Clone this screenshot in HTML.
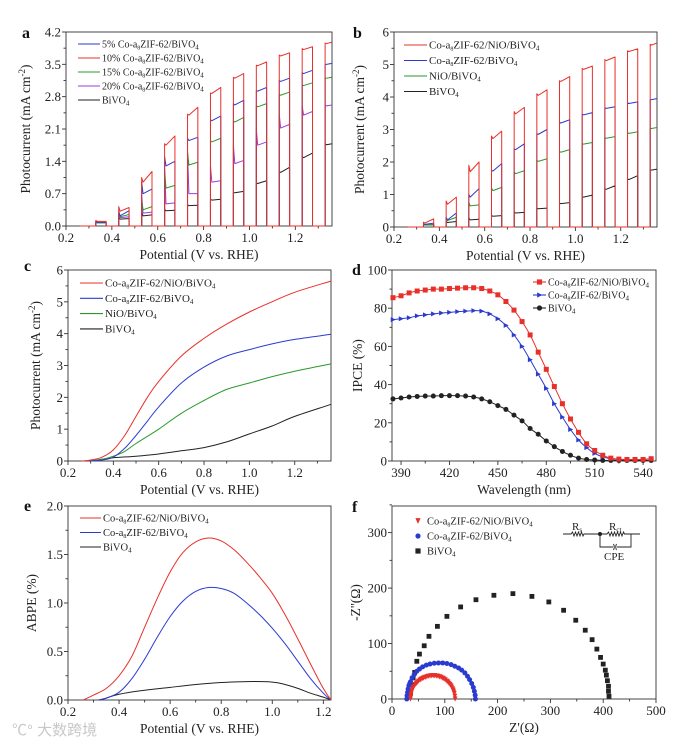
<!DOCTYPE html>
<html><head><meta charset="utf-8"><style>
html,body{margin:0;padding:0;background:#fff;}
svg{display:block;}
svg text{font-family:"Liberation Serif","DejaVu Serif",serif;}
</style></head><body>
<svg id="fig" width="693" height="745" viewBox="0 0 693 745" xmlns="http://www.w3.org/2000/svg" font-family="Liberation Serif, DejaVu Serif, serif">
<rect width="693" height="745" fill="#fff"/>
<text x="12" y="735" font-size="15" fill="#c8c8c8" style="font-family:'Liberation Sans','Noto Sans CJK SC',sans-serif">℃° 大数跨境</text>
<g id="circuit" stroke="#222" fill="none" stroke-width="0.9">
<path d="M563 534 H571 l1.5 -2 l1.5 4 l1.5 -4 l1.5 4 l1.5 -4 l1.5 4 l1.5 -4 l1.5 4 l1 -2 H600 H607 l1.5 -2 l1.5 4 l1.5 -4 l1.5 4 l1.5 -4 l1.5 4 l1.5 -4 l1.5 4 l1.5 -4 l1.5 4 l1.5 -4 l1 2 H640"/>
<path d="M600 534 V547 H613 M617 547 H631 V534"/>
<path d="M613.5 544 q1.5 3 0 6 M616.5 544 q-1.5 3 0 6"/>
<circle cx="600" cy="534" r="1.6" fill="#222"/>
<text x="572" y="530" font-size="11" fill="#222" stroke="none">R<tspan font-size="7" dy="2">s</tspan></text>
<text x="609" y="530" font-size="11" fill="#222" stroke="none">R<tspan font-size="7" dy="2">ct</tspan></text>
<text x="604" y="560" font-size="11" fill="#222" stroke="none">CPE</text>
</g>
</svg>
<script>
// ---------- data ----------
const pulseV = [0.33,0.43,0.53,0.63,0.73,0.83,0.93,1.03,1.13,1.23,1.33];
// panel a
const aRedSpike=[0.12,0.42,1.05,1.78,2.42,2.88,3.22,3.48,3.7,3.84,3.96];
const aRedDip=[0.1,0.32,0.95,1.75,2.4,2.87,3.2,3.47,3.68,3.82,3.95];
const aRedEnd=[0.1,0.4,1.18,1.95,2.57,3.0,3.3,3.55,3.75,3.88,3.98];
const aBlueSpike=[0.1,0.32,0.95,1.5,1.9,2.3,2.65,2.93,3.15,3.32,3.5];
const aBlueDip=[0.08,0.22,0.7,1.3,1.85,2.28,2.62,2.92,3.13,3.3,3.5];
const aBlueEnd=[0.08,0.33,0.8,1.4,1.92,2.38,2.72,3.0,3.2,3.37,3.52];
const aGreenSpike=[0.08,0.25,0.55,1.2,1.6,1.85,2.28,2.6,2.85,3.05,3.2];
const aGreenDip=[0.07,0.2,0.35,0.82,1.32,1.82,2.25,2.58,2.83,3.04,3.2];
const aGreenEnd=[0.07,0.25,0.42,0.88,1.38,1.9,2.35,2.65,2.9,3.1,3.22];
const aPurpleSpike=[0.1,0.28,0.65,1.25,1.6,1.3,1.75,2.1,2.42,2.6,2.62];
const aPurpleDip=[0.07,0.18,0.28,0.48,0.7,0.95,1.35,1.75,2.12,2.4,2.6];
const aPurpleEnd=[0.07,0.2,0.3,0.5,0.7,0.98,1.42,1.82,2.2,2.48,2.62];
const aBlackSpike=[0.08,0.18,0.3,0.36,0.46,0.58,0.72,0.93,1.18,1.5,1.78];
const aBlackDip=[0.07,0.15,0.22,0.33,0.44,0.56,0.72,0.92,1.16,1.48,1.76];
const aBlackEnd=[0.07,0.16,0.24,0.34,0.45,0.58,0.75,0.98,1.27,1.58,1.78];
// panel b
const bRedSpike=[0.15,0.8,1.9,2.8,3.55,4.1,4.5,4.88,5.15,5.42,5.62];
const bRedDip=[0.12,0.7,1.7,2.72,3.48,4.05,4.48,4.85,5.12,5.4,5.6];
const bRedEnd=[0.25,0.92,2.0,2.95,3.68,4.22,4.63,4.95,5.23,5.48,5.66];
const bBlueSpike=[0.1,0.3,1.0,1.75,2.4,2.87,3.22,3.47,3.67,3.82,3.92];
const bBlueDip=[0.08,0.22,0.92,1.72,2.38,2.85,3.2,3.45,3.65,3.8,3.92];
const bBlueEnd=[0.12,0.43,1.18,1.95,2.56,3.0,3.3,3.52,3.7,3.85,3.95];
const bGreenSpike=[0.08,0.28,0.75,1.2,1.7,2.05,2.33,2.56,2.75,2.9,3.04];
const bGreenDip=[0.06,0.2,0.65,1.12,1.64,2.02,2.3,2.55,2.73,2.88,3.03];
const bGreenEnd=[0.08,0.3,0.68,1.22,1.73,2.1,2.38,2.6,2.78,2.93,3.06];
const bBlackSpike=[0.07,0.17,0.28,0.36,0.46,0.58,0.73,0.93,1.18,1.48,1.76];
const bBlackDip=[0.06,0.14,0.22,0.33,0.43,0.56,0.72,0.92,1.16,1.46,1.75];
const bBlackEnd=[0.07,0.17,0.24,0.35,0.45,0.58,0.75,0.98,1.27,1.58,1.78];
// panel c
const cRedV=[0.26,0.3,0.35,0.4,0.45,0.5,0.55,0.6,0.7,0.8,0.9,1.0,1.1,1.2,1.36];
const cRedJ=[0,0.03,0.12,0.35,0.8,1.4,2.0,2.5,3.3,3.85,4.3,4.68,5.0,5.3,5.65];
const cBlueV=[0.3,0.35,0.4,0.45,0.5,0.55,0.6,0.7,0.8,0.9,1.0,1.1,1.2,1.36];
const cBlueJ=[0,0.03,0.12,0.4,0.8,1.25,1.7,2.45,2.95,3.3,3.5,3.68,3.82,3.98];
const cGreenV=[0.3,0.35,0.4,0.45,0.5,0.6,0.7,0.8,0.9,1.0,1.1,1.2,1.36];
const cGreenJ=[0,0.05,0.15,0.3,0.55,1.0,1.5,1.9,2.25,2.45,2.65,2.82,3.05];
const cBlackV=[0.3,0.4,0.5,0.6,0.7,0.8,0.9,1.0,1.1,1.2,1.36];
const cBlackJ=[0,0.1,0.15,0.22,0.32,0.42,0.6,0.85,1.1,1.4,1.78];
// panel d
const dWave=[385,390,395,400,405,410,415,420,425,430,435,440,445,450,455,460,465,470,475,480,485,490,495,500,505,510,515,520,525,530,535,540,545,550];
const dRed=[85.5,86.5,88,89,89.5,90,90,90.3,90.5,90.7,90.7,90.3,89,87,83.5,79,73,66,57,48,39,30,22,15,9,5.5,3,1.5,1,0.8,0.8,0.8,1.2,1.5];
const dBlue=[74,74.5,75,76,76.5,77,77.5,77.8,78.2,78.5,78.7,78.5,77,74.5,71,66,60,53,45.5,38,30,23,16.5,11,7,4,2.2,1.2,0.8,0.8,0.8,0.8,1.2,2];
const dBlack=[32.5,33,33.5,33.8,34,34,34.2,34.2,34.2,34,33.5,32.5,31,29,27,24,21,17,14,10.5,7.5,5,3,1.5,0.8,0.5,0.3,0.3,0.3,0.3,0.3,0.3,0.3,0.3];
// panel e
const eRedV=[0.26,0.3,0.35,0.4,0.45,0.5,0.55,0.6,0.65,0.7,0.75,0.8,0.85,0.9,0.95,1.0,1.05,1.1,1.15,1.2,1.23];
const eRedP=[0,0.05,0.12,0.25,0.45,0.75,1.05,1.32,1.52,1.63,1.67,1.64,1.55,1.42,1.27,1.1,0.88,0.63,0.37,0.12,0];
const eBlueV=[0.32,0.35,0.4,0.45,0.5,0.55,0.6,0.65,0.7,0.75,0.8,0.85,0.9,0.95,1.0,1.05,1.1,1.15,1.2,1.23];
const eBlueP=[0,0.02,0.08,0.22,0.42,0.65,0.86,1.02,1.12,1.16,1.15,1.1,1.0,0.88,0.74,0.58,0.4,0.22,0.07,0];
const eBlackV=[0.32,0.35,0.4,0.5,0.6,0.7,0.8,0.9,1.0,1.05,1.1,1.15,1.2,1.23];
const eBlackP=[0,0.02,0.06,0.1,0.13,0.16,0.18,0.19,0.185,0.16,0.12,0.07,0.03,0];
// panel f
const fBlackRe=[35,37,40,43,47,52,61,70,86,104,130,159,193,229,265,297,325,348,366,379,388,395,400,404,406,408,410,410,411];
const fBlackIm=[10,25,38,48,68,81,96,113,131,149,166,179,187,190,185,175,160,142,124,107,90,75,63,52,43,33,23,14,5];
const fBlueRe=[28,28.5,29.5,30.5,32,33.5,35,38,42,47,52,58,65,72,80,88,96,104,112,119,126,132,138,143,147,151,154,156,157.5,158];
const fBlueIm=[0,6,12,18,24,28,31,38,44,50,54,58,61,63,64.5,65,65,64,62,59,56,52,47,41,35,28,21,14,7,0];
const fRedRe=[35,35.5,36,37,38,39,40.5,42,44,46,48,50,53,55,58,60,63,66,69,72,75,78,81,84,87,90,93,96,98.5,101,104,106,108,110,112,113,115,116,117,118,119,119.5];
const fRedIm=[0,4,8,12,15,18,21,23,26,28,30,32,34,35.5,37,38,39,40,41,41.5,42,42,42,41.5,41,40,39,37.5,36,34.5,32,30.5,28,26,23.5,21,18,15.5,12.5,10,5,0];

// ---------- helpers ----------
const NS='http://www.w3.org/2000/svg';
const svg=document.getElementById('fig');
function el(tag,attrs,parent){const e=document.createElementNS(NS,tag);for(const k in attrs)e.setAttribute(k,attrs[k]);(parent||svg).appendChild(e);return e;}
function fmt(v,d){return v.toFixed(d);}

function makePanel(id,P){
  const g=el('g',{});
  
  
  P.g=g;
  P.sx=v=>P.L+(v-P.x0)/(P.x1-P.x0)*(P.R-P.L);
  P.sy=v=>P.B-(v-P.y0)/(P.y1-P.y0)*(P.B-P.T);
  const ax=el('g',{stroke:'#333','stroke-width':'0.9',fill:'none'},g);
  
  
  el('rect',{x:P.L,y:P.T,width:P.R-P.L,height:P.B-P.T},ax);
  P.xt.forEach(v=>{const x=P.sx(v);el('line',{x1:x,x2:x,y1:P.B,y2:P.B+4},ax);
    const t=el('text',{x:x,y:P.B+16,'font-size':'13','text-anchor':'middle',fill:'#222',stroke:'none'},g);t.textContent=fmt(v,P.xd);
    });
  P.xm.forEach(v=>{const x=P.sx(v);el('line',{x1:x,x2:x,y1:P.B,y2:P.B+2.5},ax);});
  P.yt.forEach(v=>{const y=P.sy(v);el('line',{x1:P.L,x2:P.L-4,y1:y,y2:y},ax);
    const t=el('text',{x:P.L-5,y:y+4.5,'font-size':'13','text-anchor':'end',fill:'#222',stroke:'none'},g);t.textContent=fmt(v,P.yd);
    });
  P.ym.forEach(v=>{const y=P.sy(v);el('line',{x1:P.L,x2:P.L-2.5,y1:y,y2:y},ax);});
  const xt=el('text',{x:(P.L+P.R)/2,y:P.B+33,'font-size':'13.5','text-anchor':'middle',fill:'#222'},g);
  xt.textContent=P.xtitle;
  
  const yt=el('text',{transform:`translate(${P.ytx},${(P.T+P.B)/2}) rotate(-90)`,'font-size':'13.5','text-anchor':'middle',fill:'#222'},g);
  yt.innerHTML=P.ytitle;
  
  const lt=el('text',{x:P.lx,y:P.ly,'font-size':'16','font-weight':'bold',fill:'#111'},g);
  lt.textContent=id.slice(-1);
  
  return P;
}
function range(a,b,s){const r=[];for(let v=a;v<=b+1e-9;v+=s)r.push(+v.toFixed(4));return r;}
function linePath(P,xs,ys,color,name,smooth){
  const pts=xs.map((x,i)=>[P.sx(x),P.sy(ys[i])]);
  let d='M'+pts[0][0].toFixed(1)+' '+pts[0][1].toFixed(1);
  for(let i=1;i<pts.length;i++){
    if(smooth){
      const p0=pts[Math.max(0,i-2)],p1=pts[i-1],p2=pts[i],p3=pts[Math.min(pts.length-1,i+1)];
      const c1=[p1[0]+(p2[0]-p0[0])/6,p1[1]+(p2[1]-p0[1])/6];
      const c2=[p2[0]-(p3[0]-p1[0])/6,p2[1]-(p3[1]-p1[1])/6];
      d+=` C${c1[0].toFixed(1)} ${c1[1].toFixed(1)} ${c2[0].toFixed(1)} ${c2[1].toFixed(1)} ${p2[0].toFixed(1)} ${p2[1].toFixed(1)}`;
    } else d+=` L${pts[i][0].toFixed(1)} ${pts[i][1].toFixed(1)}`;
  }
  const p=el('path',{d:d,stroke:color,'stroke-width':'1',fill:'none'},P.g);
  
  
}
function pulsePath(P,spike,dip,end,color,name){
  let d='M'+P.sx(0.26)+' '+P.sy(0);
  pulseV.forEach((t0,i)=>{
    const t1=Math.min(t0+0.045,P.x1);
    d+=` L${P.sx(t0)} ${P.sy(0)} L${P.sx(t0)} ${P.sy(spike[i])} L${P.sx(t0+0.006)} ${P.sy(dip[i])} L${P.sx(t1)} ${P.sy(end[i])}`;
    if(t1<P.x1) d+=` L${P.sx(t1)} ${P.sy(0)}`;
  });
  const p=el('path',{d:d,stroke:color,'stroke-width':'1',fill:'none','stroke-linejoin':'round'},P.g);
  
  
}
function marker(g,shape,x,y,color,s){
  if(shape==='sq') return el('rect',{x:x-s,y:y-s,width:2*s,height:2*s,fill:color},g);
  if(shape==='ci') return el('circle',{cx:x,cy:y,r:s,fill:color},g);
  if(shape==='tr') return el('path',{d:`M${x-s} ${y-s*1.1} L${x+s} ${y-s*1.1} L${x} ${y+s*1.1}Z`,fill:color},g);
  return el('path',{d:`M${x-s*0.9} ${y-s} L${x+s*1.1} ${y} L${x-s*0.9} ${y+s}Z`,fill:color},g);
}
function legend(P,items,x0,y0,dy,len,fs){
  const lg=el('g',{},P.g);
  
  
  items.forEach((it,i)=>{
    const y=y0+i*dy;
    const eg=el('g',{},lg);
    
    
    if(it.line!==false) el('line',{x1:x0,x2:x0+len,y1:y,y2:y,stroke:it.c,'stroke-width':'1.1'},eg);
    if(it.m) marker(eg,it.m,x0+len/2,y,it.c,it.ms||2.6);
    const t=el('text',{x:x0+len+2,y:y+3.5,'font-size':fs,fill:'#222'},eg);
    t.innerHTML=it.t;
  });
}
const S4='<tspan font-size="7" dy="2">4</tspan>';
const coa='Co-a<tspan font-size="6" dy="2">8</tspan><tspan dy="-2">ZIF-62</tspan>';
const YPC='Photocurrent (mA cm<tspan font-size="9" dy="-5">-2</tspan><tspan dy="5">)</tspan>';
const RED='#e8302a',BLUE='#2b3bd0',GREEN='#2a9a2a',PURP='#a23bdc',BLK='#222';

// ---------- panel a ----------
const A=makePanel('panel-a',{L:66,R:332,T:32,B:226,x0:0.2,x1:1.36,y0:0,y1:4.2,
  xt:range(0.2,1.2,0.2),xm:range(0.3,1.3,0.2),xd:1,yt:range(0,4.2,0.7),ym:range(0.35,3.85,0.7),yd:1,
  xtitle:'Potential (V vs. RHE)',ytitle:YPC,ytx:30,lx:22,ly:38});
pulsePath(A,aBlackSpike,aBlackDip,aBlackEnd,BLK,'series-bivo4');
pulsePath(A,aPurpleSpike,aPurpleDip,aPurpleEnd,PURP,'series-20pct');
pulsePath(A,aGreenSpike,aGreenDip,aGreenEnd,GREEN,'series-15pct');
pulsePath(A,aBlueSpike,aBlueDip,aBlueEnd,BLUE,'series-5pct');
pulsePath(A,aRedSpike,aRedDip,aRedEnd,RED,'series-10pct');
legend(A,[{c:BLUE,t:'5% '+coa+'/BiVO'+S4},{c:RED,t:'10% '+coa+'/BiVO'+S4},{c:GREEN,t:'15% '+coa+'/BiVO'+S4},{c:PURP,t:'20% '+coa+'/BiVO'+S4},{c:BLK,t:'BiVO'+S4}],78,44,14,22,'10');

// ---------- panel b ----------
const Bp=makePanel('panel-b',{L:394,R:657,T:32,B:227,x0:0.2,x1:1.36,y0:0,y1:6,
  xt:range(0.2,1.2,0.2),xm:range(0.3,1.3,0.2),xd:1,yt:range(0,6,1),ym:range(0.5,5.5,1),yd:0,
  xtitle:'Potential (V vs. RHE)',ytitle:YPC,ytx:364,lx:353,ly:38});
pulsePath(Bp,bBlackSpike,bBlackDip,bBlackEnd,BLK,'series-bivo4');
pulsePath(Bp,bGreenSpike,bGreenDip,bGreenEnd,GREEN,'series-nio-bivo4');
pulsePath(Bp,bBlueSpike,bBlueDip,bBlueEnd,BLUE,'series-coa8zif62-bivo4');
pulsePath(Bp,bRedSpike,bRedDip,bRedEnd,RED,'series-coa8zif62-nio-bivo4');
legend(Bp,[{c:RED,t:coa+'/NiO/BiVO'+S4},{c:BLUE,t:coa+'/BiVO'+S4},{c:GREEN,t:'NiO/BiVO'+S4},{c:BLK,t:'BiVO'+S4}],404,45,15.5,23,'11');

// ---------- panel c ----------
const C=makePanel('panel-c',{L:68,R:331,T:270,B:461,x0:0.2,x1:1.36,y0:0,y1:6,
  xt:range(0.2,1.2,0.2),xm:range(0.3,1.3,0.2),xd:1,yt:range(0,6,1),ym:range(0.5,5.5,1),yd:0,
  xtitle:'Potential (V vs. RHE)',ytitle:YPC,ytx:40,lx:24,ly:271});
linePath(C,cBlackV,cBlackJ,BLK,'series-bivo4',true);
linePath(C,cGreenV,cGreenJ,GREEN,'series-nio-bivo4',true);
linePath(C,cBlueV,cBlueJ,BLUE,'series-coa8zif62-bivo4',true);
linePath(C,cRedV,cRedJ,RED,'series-coa8zif62-nio-bivo4',true);
legend(C,[{c:RED,t:coa+'/NiO/BiVO'+S4},{c:BLUE,t:coa+'/BiVO'+S4},{c:GREEN,t:'NiO/BiVO'+S4},{c:BLK,t:'BiVO'+S4}],80,283,15.3,23,'11');

// ---------- panel d ----------
const D=makePanel('panel-d',{L:392,R:656,T:270,B:461,x0:384.4,x1:548,y0:0,y1:100,
  xt:range(390,540,30),xm:range(405,525,30),xd:0,yt:range(0,100,20),ym:range(10,90,20),yd:0,
  xtitle:'Wavelength (nm)',ytitle:'IPCE (%)',ytx:362,lx:352,ly:275});
[[dBlack,BLK,'ci','series-bivo4'],[dBlue,BLUE,'rt','series-coa8zif62-bivo4'],[dRed,RED,'sq','series-coa8zif62-nio-bivo4']].forEach(s=>{
  const xs=[],ys=[];
  dWave.forEach((w,i)=>{if(w<=D.x1){xs.push(w);ys.push(s[0][i]);}});
  linePath(D,xs,ys,s[1],s[3],true);
  const mg=el('g',{},D.g);
  
  
  xs.forEach((w,i)=>marker(mg,s[2],D.sx(w),D.sy(ys[i]),s[1],2.5));
});
legend(D,[{c:RED,m:'sq',t:coa+'/NiO/BiVO'+S4},{c:BLUE,m:'rt',t:coa+'/BiVO'+S4},{c:BLK,m:'ci',t:'BiVO'+S4}],533,282,13,13,'10');

// ---------- panel e ----------
const E=makePanel('panel-e',{L:68,R:331,T:506,B:700,x0:0.2,x1:1.23,y0:0,y1:2,
  xt:range(0.2,1.2,0.2),xm:range(0.3,1.1,0.2),xd:1,yt:range(0,2,0.5),ym:range(0.25,1.75,0.5),yd:1,
  xtitle:'Potential (V vs. RHE)',ytitle:'ABPE (%)',ytx:36,lx:24,ly:511});
linePath(E,eBlackV,eBlackP,BLK,'series-bivo4',true);
linePath(E,eBlueV,eBlueP,BLUE,'series-coa8zif62-bivo4',true);
linePath(E,eRedV,eRedP,RED,'series-coa8zif62-nio-bivo4',true);
legend(E,[{c:RED,t:coa+'/NiO/BiVO'+S4},{c:BLUE,t:coa+'/BiVO'+S4},{c:BLK,t:'BiVO'+S4}],80,518,14.5,21,'10.5');

// ---------- panel f ----------
const F=makePanel('panel-f',{L:392,R:656,T:506,B:699,x0:0,x1:500,y0:0,y1:348,
  xt:range(0,500,100),xm:range(50,450,100),xd:0,yt:range(0,300,100),ym:range(50,350,100),yd:0,
  xtitle:"Z'(Ω)",ytitle:"-Z''(Ω)",ytx:360,lx:352,ly:512});
[[fBlackRe,fBlackIm,BLK,'sq',2.4,'series-bivo4'],[fBlueRe,fBlueIm,BLUE,'ci',2.5,'series-coa8zif62-bivo4'],[fRedRe,fRedIm,RED,'tr',2.4,'series-coa8zif62-nio-bivo4']].forEach(s=>{
  const mg=el('g',{},F.g);
  
  
  s[0].forEach((x,i)=>marker(mg,s[3],F.sx(x),F.sy(s[1][i]),s[2],s[4]));
});
legend(F,[{c:RED,m:'tr',line:false,t:coa+'/NiO/BiVO'+S4},{c:BLUE,m:'ci',line:false,t:coa+'/BiVO'+S4},{c:BLK,m:'sq',line:false,t:'BiVO'+S4}],411,521,15,14,'10.5');
</script>
</body></html>
